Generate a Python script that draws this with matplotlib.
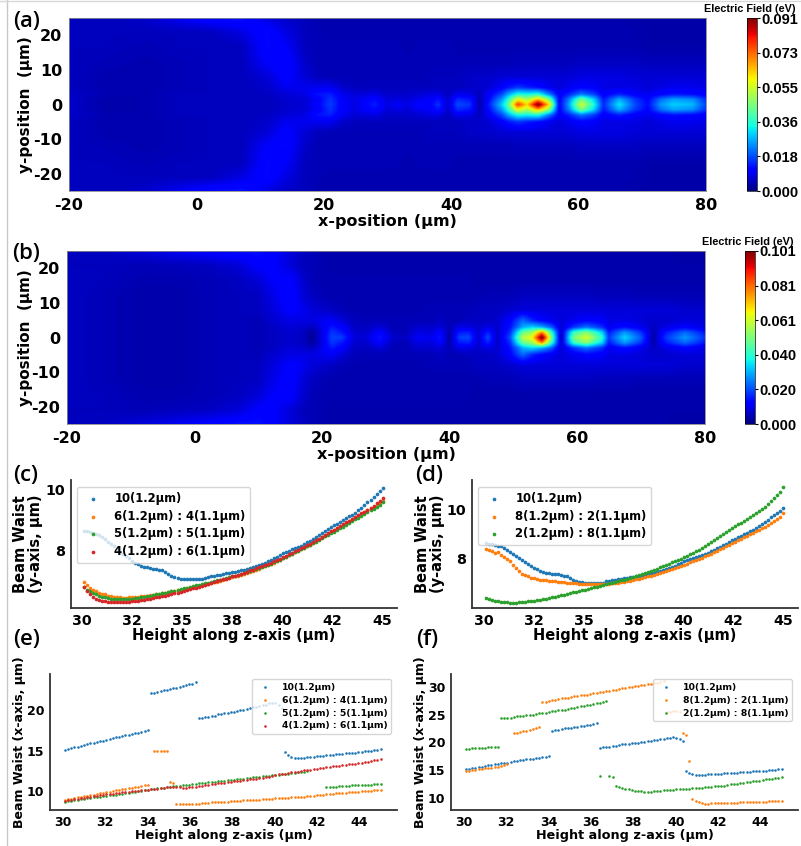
import matplotlib
matplotlib.use("Agg")
import matplotlib.pyplot as plt
from matplotlib.lines import Line2D
import numpy as np

W, H = 801, 846
plt.rcParams["axes.unicode_minus"] = False

# field maps, in 1e-3 eV, rows go from y=0 out to y=25 and get mirrored
y_half = [0, 1.5, 3, 5, 8, 12, 17, 21, 25]

x_a = [-20, -14, -8, -3, 2, 7, 11, 14, 17, 19, 21, 23, 25, 28, 30, 31.5, 33, 35, 37, 38, 39.5, 41, 43, 44.5, 46, 48,
       49, 50.5, 52, 53.7, 55.5, 57, 58.5, 60.5, 62.5, 64, 66.5, 69, 71, 73, 75, 78, 80]
field_a = [
    [6, 3.5, 4, 5, 5, 5, 5, 6, 7, 11, 17, 10, 8, 14, 8, 10, 8, 11, 12, 16, 6, 18, 16, 3, 14, 30,
     42, 78, 62, 95, 60, 10, 25, 55, 35, 15, 32, 18, 12, 25, 30, 28, 18],
    [6, 3.5, 4, 5, 5, 5, 5, 6.5, 7, 10, 16, 10, 8, 12, 7, 8, 7, 9, 10, 13, 6, 15, 13, 4, 12, 25,
     36, 58, 50, 65, 45, 10, 22, 45, 30, 13, 27, 16, 11, 21, 26, 24, 16],
    [6, 4, 4, 5, 5, 5, 5.5, 7, 8, 13, 14, 9, 7, 8, 6, 6, 6, 7, 8, 8, 5, 9, 8, 5, 10, 18,
     26, 35, 34, 36, 22, 10, 14, 22, 17, 10, 14, 10, 9, 11, 13, 12, 10],
    [5, 4, 4, 4.5, 5, 5, 6, 9, 9, 9, 9, 6, 5, 5, 5, 5, 5, 5, 5, 5, 5, 5, 6, 6, 7, 10,
     13, 16, 14, 12, 9, 7, 9, 11, 10, 8, 8, 8, 7, 8, 9, 9, 8],
    [5, 4, 4, 4.5, 5, 5, 7, 11, 7, 5, 4.5, 4.5, 4.5, 4.5, 4.5, 4.5, 4.5, 4.5, 5, 5, 5, 5, 6, 6, 6, 7,
     7, 7, 7, 7, 7, 7, 7, 8, 8, 8, 8, 7, 7, 7, 7, 7, 7],
    [5, 4.5, 4, 4.5, 5, 5, 10, 12, 6, 4.5, 4.5, 4.5, 4.5, 4.5, 4.5, 4.5, 4.5, 4.5, 4.5, 4.5, 4.5, 4.5, 4.5, 4.5, 4.5, 4.5,
     4.5, 5, 5, 5, 5, 5, 5, 5.5, 5.5, 5.5, 5.5, 5.5, 5, 5, 5, 5, 5],
    [5, 5, 4.5, 5, 5, 5, 12, 10, 5, 4.5, 4.5, 4.5, 4.5, 4.5, 4.5, 4.5, 4, 4.5, 4.5, 4.5, 4.5, 4, 4, 4, 4, 4,
     4, 4, 4, 4, 4, 4, 4, 4, 4, 4, 4, 4, 3.5, 3.5, 3.5, 3.5, 3.5],
    [5, 5, 5, 5, 5, 8, 12, 8, 5, 4.5, 4, 4, 4, 4, 4, 4, 4, 4, 4, 4, 4, 4, 4, 4, 4, 4,
     4, 4, 4, 4, 4, 4, 4, 4, 4, 4, 4, 4, 3.5, 3.5, 3.5, 3.5, 3.5],
    [5, 5, 6, 9, 12, 13, 8, 6, 5, 4, 4, 4, 4, 4, 4, 4, 4, 4, 4, 4, 4, 4, 4, 4, 4, 4,
     4, 4, 4, 4, 4, 4, 4, 4, 4, 4, 4, 3.5, 3.5, 3.5, 3.5, 3.5, 3.5],
]

x_b = [-20, -14, -8, -3, 2, 7, 10, 12, 15, 17, 18.5, 20, 21.5, 23, 25, 27, 29, 31, 33, 35, 37, 38.5, 40, 41.5, 43, 44.5,
       46, 47.5, 49.5, 51.5, 53, 54.5, 56, 57.5, 59.5, 61.5, 64, 65, 67.5, 70, 72, 74, 77, 80]
field_b = [
    [6, 5, 4, 4, 5, 5.5, 5, 6, 7, 6, 2, 10, 19, 19, 8, 8, 15, 7, 6, 11, 10, 15, 3, 19, 20, 7,
     20, 6, 20, 58, 65, 106, 50, 4, 50, 62, 40, 18, 34, 22, 3, 18, 28, 18],
    [6, 5, 4, 4, 5, 5.5, 5, 6, 7, 6, 3, 9, 18, 15, 7, 7, 12, 6, 5, 9, 8, 12, 4, 15, 16, 7,
     16, 6, 17, 48, 55, 78, 42, 6, 42, 52, 33, 15, 28, 18, 4, 15, 23, 15],
    [6, 5, 4, 4, 5, 5.5, 5, 6, 8, 7, 6, 10, 15, 12, 6, 6, 8, 5, 5, 7, 7, 8, 5, 9, 9, 7,
     9, 7, 14, 30, 34, 30, 22, 7, 18, 24, 17, 10, 14, 10, 6, 9, 12, 9],
    [6, 5, 4, 4, 5, 5.5, 5, 7, 9, 9, 9, 10, 11, 8, 5.5, 5, 5, 5, 5, 5, 5, 6, 5, 5, 6, 6,
     6, 7, 12, 23, 16, 12, 10, 8, 10, 12, 11, 9, 9, 8, 7, 7, 8, 8],
    [6, 5, 4, 4, 5, 5.5, 6, 8, 12, 10, 8, 7, 6, 5, 4.5, 4.5, 4.5, 4.5, 4.5, 4.5, 5, 5, 5, 5, 5, 6,
     6, 6, 7, 8, 8, 8, 8, 8, 8, 8, 8, 8, 8, 8, 8, 8, 7, 7],
    [6, 5, 4, 4, 5, 5.5, 6, 9, 13, 8, 6, 5, 4.5, 4.5, 4.5, 4.5, 4.5, 4.5, 4.5, 4.5, 4.5, 4.5, 4.5, 4.5, 4.5, 4.5,
     5, 5, 5, 6, 6, 6, 6, 6, 6, 6, 5.5, 5.5, 5.5, 5, 5, 5, 5, 5],
    [6, 5.5, 4.5, 4.5, 5, 6, 8, 11, 12, 7, 5, 4.5, 4.5, 4.5, 4.5, 4.5, 4.5, 4.5, 4.5, 4.5, 4.5, 4.5, 4.5, 4.5, 4.5, 4,
     4, 4, 4, 4, 4, 4, 4, 4, 4, 4, 4, 4, 4, 4, 4, 4, 4, 4],
    [5.5, 5.5, 5, 5.5, 6, 8, 12, 12, 8, 5.5, 5, 4.5, 4, 4, 4, 4, 4, 4, 4, 4, 4, 4, 4, 4, 4, 4,
     4, 4, 4, 4, 4, 4, 4, 4, 4, 4, 4, 4, 4, 4, 4, 4, 4, 4],
    [5.5, 6, 8, 10, 12, 14, 14, 12, 8, 6, 5, 4.5, 4, 4, 4, 4, 4, 4, 4, 4, 4, 4, 4, 4, 4, 4,
     4, 4, 4, 4, 4, 4, 4, 4, 4, 4, 4, 4, 4, 4, 4, 4, 3.5, 3.5],
]

# all the beam waist curves share this height axis
z = np.linspace(30.1, 45, 100)

wy_10 = [8.64, 8.62, 8.6, 8.56, 8.52, 8.5, 8.44, 8.36, 8.28, 8.2,
         8.12, 8.02, 7.94, 7.87, 7.8, 7.72, 7.63, 7.57, 7.52, 7.47,
         7.44, 7.42, 7.4, 7.38, 7.37, 7.35, 7.32, 7.28, 7.2, 7.14,
         7.09, 7.06, 7.04, 7.03, 7.02, 7.02, 7.02, 7.02, 7.02, 7.03,
         7.08, 7.1, 7.12, 7.14, 7.16, 7.18, 7.2, 7.22, 7.24, 7.26,
         7.28, 7.3, 7.32, 7.35, 7.38, 7.41, 7.44, 7.47, 7.51, 7.55,
         7.58, 7.62, 7.67, 7.72, 7.77, 7.83, 7.89, 7.93, 7.98, 8.02,
         8.06, 8.1, 8.15, 8.2, 8.25, 8.31, 8.37, 8.43, 8.49, 8.55,
         8.62, 8.69, 8.76, 8.82, 8.88, 8.94, 9.0, 9.06, 9.12, 9.18,
         9.24, 9.32, 9.41, 9.5, 9.59, 9.68, 9.77, 9.86, 9.96, 10.07]
wy_64 = [6.92, 6.82, 6.74, 6.68, 6.63, 6.58, 6.54, 6.52, 6.48, 6.46,
         6.44, 6.42, 6.42, 6.41, 6.41, 6.42, 6.43, 6.44, 6.45, 6.46,
         6.47, 6.48, 6.49, 6.5, 6.52, 6.54, 6.56, 6.58, 6.6, 6.62,
         6.64, 6.66, 6.68, 6.7, 6.72, 6.74, 6.76, 6.78, 6.8, 6.82,
         6.85, 6.87, 6.9, 6.92, 6.95, 6.97, 7.0, 7.03, 7.06, 7.09,
         7.12, 7.15, 7.18, 7.21, 7.24, 7.27, 7.31, 7.34, 7.38, 7.42,
         7.46, 7.5, 7.54, 7.58, 7.62, 7.67, 7.72, 7.77, 7.82, 7.87,
         7.92, 7.97, 8.02, 8.07, 8.13, 8.18, 8.24, 8.3, 8.36, 8.42,
         8.48, 8.54, 8.6, 8.66, 8.72, 8.78, 8.84, 8.9, 8.96, 9.02,
         9.08, 9.14, 9.2, 9.26, 9.32, 9.38, 9.44, 9.5, 9.56, 9.64]
wy_55 = [6.78, 6.68, 6.62, 6.56, 6.52, 6.48, 6.45, 6.43, 6.4, 6.38,
         6.37, 6.37, 6.36, 6.36, 6.36, 6.37, 6.38, 6.4, 6.41, 6.43,
         6.45, 6.46, 6.48, 6.5, 6.52, 6.54, 6.56, 6.58, 6.6, 6.63,
         6.65, 6.68, 6.7, 6.73, 6.75, 6.78, 6.8, 6.82, 6.85, 6.87,
         6.89, 6.91, 6.94, 6.96, 6.99, 7.01, 7.04, 7.06, 7.09, 7.12,
         7.15, 7.18, 7.21, 7.24, 7.27, 7.3, 7.33, 7.37, 7.4, 7.44,
         7.47, 7.51, 7.55, 7.59, 7.63, 7.67, 7.72, 7.77, 7.82, 7.87,
         7.92, 7.97, 8.02, 8.07, 8.12, 8.17, 8.22, 8.28, 8.33, 8.39,
         8.45, 8.5, 8.56, 8.61, 8.67, 8.72, 8.78, 8.84, 8.9, 8.96,
         9.02, 9.08, 9.14, 9.2, 9.26, 9.32, 9.38, 9.44, 9.51, 9.6]
wy_46 = [6.78, 6.62, 6.52, 6.44, 6.38, 6.34, 6.31, 6.29, 6.27, 6.26,
         6.26, 6.26, 6.26, 6.26, 6.27, 6.28, 6.29, 6.3, 6.31, 6.33,
         6.35, 6.36, 6.38, 6.4, 6.42, 6.44, 6.46, 6.48, 6.51, 6.53,
         6.56, 6.58, 6.61, 6.63, 6.66, 6.69, 6.72, 6.75, 6.78, 6.81,
         6.84, 6.87, 6.9, 6.93, 6.96, 6.99, 7.02, 7.05, 7.08, 7.12,
         7.15, 7.18, 7.21, 7.25, 7.28, 7.32, 7.35, 7.39, 7.43, 7.47,
         7.5, 7.54, 7.58, 7.62, 7.67, 7.71, 7.76, 7.81, 7.86, 7.91,
         7.96, 8.01, 8.06, 8.11, 8.16, 8.21, 8.27, 8.32, 8.38, 8.44,
         8.5, 8.56, 8.62, 8.68, 8.74, 8.8, 8.86, 8.92, 8.98, 9.04,
         9.1, 9.16, 9.22, 9.28, 9.34, 9.41, 9.48, 9.55, 9.63, 9.74]
wy_82 = [8.38, 8.34, 8.3, 8.24, 8.26, 8.16, 8.08, 8.0, 7.9, 7.76,
         7.62, 7.5, 7.38, 7.36, 7.3, 7.22, 7.2, 7.18, 7.15, 7.13,
         7.12, 7.11, 7.1, 7.08, 7.07, 7.05, 7.04, 7.03, 7.02, 7.01,
         7.0, 6.99, 6.98, 6.97, 6.97, 6.96, 6.96, 6.97, 6.97, 6.97,
         6.98, 6.99, 7.0, 7.01, 7.03, 7.05, 7.07, 7.09, 7.11, 7.14,
         7.16, 7.19, 7.22, 7.25, 7.28, 7.31, 7.34, 7.38, 7.42, 7.46,
         7.5, 7.54, 7.58, 7.62, 7.66, 7.7, 7.75, 7.8, 7.85, 7.9,
         7.95, 8.0, 8.05, 8.1, 8.15, 8.21, 8.27, 8.33, 8.39, 8.45,
         8.51, 8.57, 8.63, 8.69, 8.75, 8.81, 8.87, 8.93, 8.99, 9.05,
         9.11, 9.17, 9.24, 9.3, 9.37, 9.44, 9.52, 9.6, 9.7, 9.84]
wy_28 = [6.4, 6.37, 6.34, 6.3, 6.28, 6.26, 6.24, 6.23, 6.22, 6.21,
         6.21, 6.23, 6.25, 6.26, 6.27, 6.28, 6.3, 6.32, 6.34, 6.36,
         6.38, 6.41, 6.44, 6.46, 6.49, 6.51, 6.54, 6.57, 6.6, 6.63,
         6.66, 6.69, 6.72, 6.75, 6.78, 6.81, 6.84, 6.87, 6.91, 6.94,
         6.97, 7.0, 7.03, 7.06, 7.09, 7.12, 7.15, 7.18, 7.22, 7.26,
         7.3, 7.34, 7.38, 7.42, 7.46, 7.5, 7.55, 7.6, 7.65, 7.7,
         7.75, 7.8, 7.85, 7.9, 7.95, 8.0, 8.08, 8.13, 8.18, 8.24,
         8.3, 8.37, 8.44, 8.51, 8.6, 8.68, 8.76, 8.84, 8.92, 9.0,
         9.08, 9.16, 9.25, 9.32, 9.4, 9.47, 9.55, 9.62, 9.7, 9.77,
         9.85, 9.93, 10.02, 10.12, 10.22, 10.33, 10.45, 10.58, 10.72, 10.9]

# x-axis waist jumps around, so each curve is a list of (first index on z, values)
wx_10 = [
    (0, [15.1, 15.2, 15.3, 15.4, 15.5, 15.6, 15.75, 15.85, 15.95, 16.0, 16.1, 16.2, 16.25, 16.35, 16.45, 16.55, 16.65,
         16.75, 16.85, 16.9, 17.0, 17.05, 17.15, 17.25, 17.3, 17.4, 17.5]),
    (27, [22.1, 22.2, 22.3, 22.4, 22.5, 22.55, 22.65, 22.75, 22.8, 22.9, 23.0, 23.1, 23.2, 23.3, 23.45]),
    (42, [19.0, 19.1, 19.15, 19.2, 19.3, 19.35, 19.5, 19.6, 19.65, 19.7, 19.8, 19.85, 19.95, 20.0, 20.1, 20.2, 20.3,
          20.4, 20.45, 20.55, 20.6, 20.7, 20.85, 20.9, 20.85, 20.6, 20.3]),
    (69, [14.8, 14.5, 14.2, 14.05, 14.05, 14.1, 14.15, 14.2, 14.2, 14.25, 14.3, 14.35, 14.4, 14.45, 14.5, 14.5, 14.55,
          14.6, 14.65, 14.7, 14.7, 14.75, 14.75, 14.8, 14.85, 14.9, 14.95, 15.0, 15.05, 15.1, 15.15]),
]
wx_64 = [
    (0, [8.9, 8.98, 9.05, 9.12, 9.2, 9.28, 9.35, 9.42, 9.5, 9.57, 9.65, 9.72, 9.78, 9.85, 9.92, 10.0, 10.07, 10.13,
         10.2, 10.27, 10.33, 10.4, 10.47, 10.55, 10.62, 10.7, 10.8]),
    (28, [14.9, 14.95, 15.0, 15.0, 15.0]),
    (33, [11.1, 11.0]),
    (35, [8.35, 8.35, 8.35, 8.35, 8.38, 8.4, 8.42, 8.45, 8.48, 8.5, 8.55, 8.58, 8.6, 8.63, 8.65, 8.68, 8.7, 8.72,
          8.75, 8.78, 8.8, 8.83, 8.85, 8.88, 8.9, 8.93, 8.95, 8.98, 9.0, 9.03, 9.05, 9.08, 9.1, 9.13, 9.15, 9.18,
          9.2, 9.23, 9.25, 9.28, 9.3, 9.35, 9.4, 9.43, 9.47, 9.5, 9.55, 9.58, 9.62, 9.66, 9.7, 9.73, 9.76, 9.8,
          9.83, 9.86, 9.89, 9.92, 9.95, 9.98, 10.01, 10.05, 10.08, 10.12, 10.18]),
]
wx_55 = [
    (0, [8.7, 8.75, 8.82, 8.88, 8.94, 9.0, 9.05, 9.1, 9.15, 9.2, 9.25, 9.3, 9.35, 9.4, 9.45, 9.5, 9.55, 9.6, 9.65,
         9.72, 9.78, 9.85, 9.9, 9.97, 10.03, 10.1, 10.17, 10.22, 10.28, 10.33, 10.38, 10.43, 10.5, 10.55, 10.6,
         10.65, 10.68, 10.72, 10.76, 10.8, 10.85, 10.9, 10.95, 11.0, 11.05, 11.08, 11.12, 11.17, 11.2, 11.25, 11.3,
         11.35, 11.4, 11.42, 11.47, 11.5, 11.55, 11.6, 11.65, 11.7, 11.73, 11.78, 11.82, 11.86, 11.9, 11.95, 12.0,
         12.03, 12.08, 12.12, 12.17, 12.2, 12.25, 12.3, 12.35, 12.4, 12.45]),
    (82, [10.5, 10.5, 10.55, 10.55, 10.6, 10.6, 10.65, 10.65, 10.7, 10.7, 10.72, 10.75, 10.75, 10.78, 10.8, 10.82,
          10.85, 10.9]),
]
wx_46 = [
    (0, [8.8, 8.87, 8.93, 9.0, 9.05, 9.12, 9.18, 9.24, 9.3, 9.35, 9.42, 9.48, 9.53, 9.58, 9.63, 9.68, 9.73, 9.78,
         9.82, 9.87, 9.92, 9.96, 10.0, 10.04, 10.08, 10.12, 10.16, 10.2, 10.25, 10.3, 10.35, 10.4, 10.45, 10.5,
         10.55, 10.5, 10.45, 10.4, 10.42, 10.45, 10.5, 10.55, 10.6, 10.65, 10.7, 10.75, 10.82, 10.88, 10.95, 11.0,
         11.05, 11.1, 11.15, 11.2, 11.25, 11.3, 11.35, 11.4, 11.45, 11.5, 11.55, 11.6, 11.65, 11.7, 11.75, 11.85,
         11.95, 12.05, 12.1, 12.15, 12.2, 12.3, 12.4, 12.42, 12.48, 12.55, 12.6, 12.65, 12.72, 12.78, 12.85, 12.9,
         12.95, 13.0, 13.05, 13.1, 13.15, 13.2, 13.25, 13.3, 13.35, 13.4, 13.45, 13.5, 13.58, 13.65, 13.72, 13.8,
         13.9, 14.0]),
]
wx_82 = [
    (0, [14.8, 14.9, 14.95, 15.05, 15.1, 15.2, 15.3, 15.35, 15.45, 15.5, 15.6, 15.7, 15.85, 16.0]),
    (15, [21.6, 21.7, 21.85, 22.0, 22.1, 22.25, 22.45, 22.6, 22.8]),
    (24, [27.2, 27.25, 27.5, 27.55, 27.7, 27.8, 27.9, 28.0, 28.05, 28.15, 28.25, 28.35, 28.45, 28.55, 28.6, 28.7,
          28.8, 28.9, 29.0, 29.1, 29.2, 29.3, 29.4, 29.5, 29.6, 29.7, 29.8, 29.9, 30.0, 30.1, 30.2, 30.3, 30.4, 30.5,
          30.55, 30.6, 30.7, 30.8, 31.0]),
    (63, [25.4, 25.5, 25.6, 25.6, 25.5]),
    (68, [21.6, 21.3, 16.6]),
    (71, [9.7, 9.4, 9.2, 9.05, 8.95, 8.95, 9.0, 9.0, 9.0, 9.05, 9.05, 9.1, 9.1, 9.1, 9.15, 9.2, 9.2, 9.2, 9.2, 9.25,
          9.25, 9.3, 9.3, 9.3, 9.35, 9.35, 9.35, 9.4, 9.45]),
]
wx_28 = [
    (0, [18.8, 18.85, 18.9, 18.9, 18.95, 19.0, 19.0, 19.1, 19.2, 19.1, 19.2]),
    (11, [24.3, 24.3, 24.4, 24.45, 24.55, 24.65, 24.7, 24.8, 24.85, 24.9, 25.0, 25.1, 25.2, 25.25, 25.35, 25.45,
          25.55, 25.65, 25.75, 25.85, 25.85, 26.0, 26.15, 26.25, 26.35, 26.45, 26.55, 26.65, 26.8, 26.9, 27.0, 27.05,
          27.3, 27.4]),
    (42, [13.9]),
    (45, [13.95, 13.7, 12.1, 11.95, 11.8, 11.65, 11.5, 11.4, 11.3, 11.2, 11.15, 11.1, 11.1, 11.1, 11.15, 11.2, 11.3,
          11.35, 11.4, 11.4, 11.45, 11.5, 11.55, 11.6, 11.65, 11.65, 11.7, 11.75, 11.8, 11.85, 11.9, 11.95, 12.0,
          12.05, 12.1, 12.15, 12.2, 12.3, 12.4, 12.45, 12.5, 12.6, 12.7, 12.8, 12.9, 13.0, 13.05, 13.1, 13.2, 13.3,
          13.4, 13.45, 13.55, 13.65, 13.8]),
]

names_c = ["10(1.2µm)", "6(1.2µm) : 4(1.1µm)", "5(1.2µm) : 5(1.1µm)", "4(1.2µm) : 6(1.1µm)"]
names_d = ["10(1.2µm)", "8(1.2µm) : 2(1.1µm)", "2(1.2µm) : 8(1.1µm)"]


def add_ax(left, top, right, bottom):
    # axes from pixel edges of the picture
    return fig.add_axes([left / W, 1 - bottom / H, (right - left) / W, (bottom - top) / H])


def set_ylabel_px(ax, px):
    # right edge of the rotated y label at a pixel column
    ax.yaxis.set_label_coords(px / W, 0.5, transform=matplotlib.transforms.blended_transform_factory(fig.transFigure, ax.transAxes))


def smooth_field(xs, rows):
    # bilinear on a fine regular grid, triangles from gouraud look like diamonds here
    ys = np.array(y_half)
    yy = np.concatenate([-ys[:0:-1], ys])
    zz = np.vstack(rows[:0:-1] + rows)
    fine_x = np.arange(-20, 80.01, 0.25)
    fine_y = np.arange(-25, 25.01, 0.25)
    by_x = np.array([np.interp(fine_x, xs, row) for row in zz])
    return np.array([np.interp(fine_y, yy, by_x[:, j]) for j in range(len(fine_x))]).T / 1000


def field_panel(box, cbox, xs, rows, vmax, title):
    ax = add_ax(*box)
    im = ax.imshow(smooth_field(xs, rows), extent=(-20, 80, -25, 25), origin="lower", aspect="auto", cmap="jet",
                   vmin=0, vmax=vmax, interpolation="bicubic")
    ax.set_xticks([-20, 0, 20, 40, 60, 80])
    ax.set_yticks([-20, -10, 0, 10, 20])
    ax.tick_params(length=0, pad=5, labelsize=11.5)
    for t in ax.get_xticklabels() + ax.get_yticklabels():
        t.set_fontweight("bold")
    ax.set_xlabel("x-position (µm)", fontweight="bold", fontsize=11.5, labelpad=1)
    ax.set_ylabel("y-position  (µm)", fontweight="bold", fontsize=11)
    set_ylabel_px(ax, 33)
    for s in ax.spines.values():
        s.set_color("#888888")
        s.set_linewidth(0.6)

    cax = add_ax(*cbox)
    cb = fig.colorbar(im, cax=cax)
    cb.set_ticks(np.linspace(0, vmax, 6))
    cb.ax.set_yticklabels(["%.3f" % v for v in np.linspace(0, vmax, 6)], family="Liberation Sans", fontweight="bold", fontsize=10.5)
    cb.ax.tick_params(length=2, width=0.8, pad=1)
    cb.outline.set_linewidth(0.5)
    fig.text((cbox[0] + 3) / W, 1 - (cbox[1] - 9) / H, title, family="Liberation Sans", fontweight="bold",
             fontsize=7.8, ha="center", va="center")


def finish_waist(ax, xlim, ylim, xticks, yticks, xfmt, ylabel, ysize, tick_size, label_px, xsize):
    ax.set_xlim(*xlim)
    ax.set_ylim(*ylim)
    ax.set_xticks(xticks)
    ax.set_xticklabels([xfmt % v for v in xticks])
    ax.set_yticks(yticks)
    ax.tick_params(length=0, pad=4, labelsize=tick_size)
    for t in ax.get_xticklabels() + ax.get_yticklabels():
        t.set_fontweight("bold")
    ax.spines["top"].set_visible(False)
    ax.spines["right"].set_visible(False)
    ax.spines["left"].set_linewidth(1.3)
    ax.spines["bottom"].set_linewidth(1.3)
    ax.spines["left"].set_color("#333333")
    ax.spines["bottom"].set_color("#333333")
    ax.set_xlabel("Height along z-axis (µm)", fontweight="bold", fontsize=xsize, labelpad=0)
    ax.set_ylabel(ylabel, fontweight="bold", fontsize=ysize, linespacing=1.0)
    set_ylabel_px(ax, label_px)


def waist_legend(ax, left, top, size):
    return ax.legend(loc="upper left", bbox_to_anchor=(left / W, 1 - top / H), bbox_transform=fig.transFigure,
                     borderaxespad=0, prop={"weight": "bold", "size": size}, handletextpad=0.8, labelspacing=0.42,
                     scatterpoints=1)


def plot_segments(ax, segments, color, label, size):
    for n, (start, values) in enumerate(segments):
        ax.scatter(z[start:start + len(values)], values, s=size, color=color, linewidths=0,
                   label=label if n == 0 else None)


fig = plt.figure(figsize=(W / 100, H / 100), dpi=100, facecolor="white")

field_panel((69, 18, 706, 191), (747, 18, 757, 191), x_a, field_a, 0.091, "Electric Field (eV)")
field_panel((67, 251, 705, 424), (745, 251, 755, 424), x_b, field_b, 0.101, "Electric Field (eV)")

half_ticks = [30, 32.5, 35, 37.5, 40, 42.5, 45]

ax_c = add_ax(71, 480, 397, 608)
for vals, c, name in zip([wy_10, wy_64, wy_55, wy_46], ["C0", "C1", "C2", "C3"], names_c):
    ax_c.scatter(z, vals, s=7, color=c, linewidths=0, label=name)
finish_waist(ax_c, (29.45, 45.72), (6.07, 10.33), half_ticks, [8, 10], "%.0f", "Beam Waist\n(y-axis, µm)", 10.5, 10.3, 43, 10.5)
waist_legend(ax_c, 77, 487, 8.4)

ax_d = add_ax(472, 480, 798, 608)
for vals, c, name in zip([wy_10, wy_82, wy_28], ["C0", "C1", "C2"], names_d):
    ax_d.scatter(z, vals, s=7, color=c, linewidths=0, label=name)
finish_waist(ax_d, (29.4, 45.75), (6.0, 11.2), half_ticks, [8, 10], "%.0f", "Beam Waist\n(y-axis, µm)", 10.5, 10.3, 445, 10.5)
waist_legend(ax_d, 478, 487, 8.4)

ax_e = add_ax(50, 674, 397, 810)
plot_segments(ax_e, wx_10, "C0", names_c[0], 3.5)
plot_segments(ax_e, wx_64, "C1", names_c[1], 3.5)
plot_segments(ax_e, wx_55, "C2", names_c[2], 3.5)
plot_segments(ax_e, wx_46, "C3", names_c[3], 3.5)
finish_waist(ax_e, (29.4, 45.77), (7.65, 24.5), list(range(30, 45, 2)), [10, 15, 20], "%d", "Beam Waist (x-axis, µm)", 9, 9, 26, 9.2)
waist_legend(ax_e, 252, 679, 6.7)

ax_f = add_ax(451, 674, 798, 810)
plot_segments(ax_f, wx_10, "C0", names_d[0], 3.5)
plot_segments(ax_f, wx_82, "C1", names_d[1], 3.5)
plot_segments(ax_f, wx_28, "C2", names_d[2], 3.5)
finish_waist(ax_f, (29.4, 45.77), (7.8, 32.3), list(range(30, 45, 2)), [10, 15, 20, 25, 30], "%d", "Beam Waist (x-axis, µm)", 9, 9, 427, 9.2)
waist_legend(ax_f, 653, 679, 6.7)

# panel letters
for letter, px, py in [("(a)", 13, 21), ("(b)", 12, 253), ("(c)", 13, 475), ("(d)", 415, 475), ("(e)", 13, 639), ("(f)", 416, 640)]:
    fig.text(px / W, 1 - py / H, letter, family="Open Sans", fontsize=16, fontweight="semibold", ha="left", va="center")

# thin grey frame of the pasted picture
fig.add_artist(Line2D([7 / W, 7 / W], [0, 1], color="#c8c8c8", lw=1))
fig.add_artist(Line2D([0, 1], [1 - 1 / H, 1 - 1 / H], color="#d8d8d8", lw=1))

fig.savefig("out.png", dpi=100)
